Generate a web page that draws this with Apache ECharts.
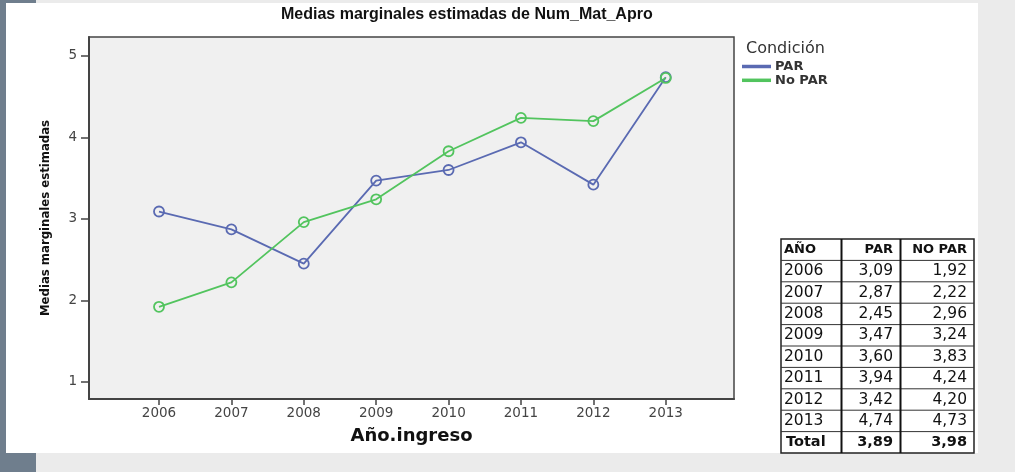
<!DOCTYPE html>
<html>
<head>
<meta charset="utf-8">
<script src="https://cdn.jsdelivr.net/npm/echarts@6/dist/echarts.min.js"></script>
<style>
  html, body { margin:0; padding:0; }
  body { width:1015px; height:472px; background:#ebebeb; overflow:hidden; position:relative; }
  #strip { position:absolute; left:0; top:0; width:36px; height:472px; background:#6f7e8d; }
  #panel { position:absolute; left:6px; top:3px; width:972px; height:450px; background:#ffffff; }
  #chart { position:absolute; left:0; top:0; width:1015px; height:472px; }
</style>
</head>
<body>
<div id="strip"></div>
<div id="panel"></div>
<div id="chart"></div>
<script>
// ---- data ----
const years = [2006, 2007, 2008, 2009, 2010, 2011, 2012, 2013];
const parValues = [3.09, 2.87, 2.45, 3.47, 3.60, 3.94, 3.42, 4.74];
const noParValues = [1.92, 2.22, 2.96, 3.24, 3.83, 4.24, 4.20, 4.73];
const totals = { PAR: 3.89, NOPAR: 3.98 };
const yTicks = [1, 2, 3, 4, 5];
const tableHeader = ['AÑO', 'PAR', 'NO PAR'];

// ---- styles ----
const BLUE = '#5a6ab2';
const GREEN = '#52c45e';
const AXIS = '#444444';
const DV = "'DejaVu Sans', 'Liberation Sans', sans-serif";

function fmt(v) { return v.toFixed(2).replace('.', ','); }

// ---- table (graphic) ----
const tL = 781, tR = 974, tT = 239, tB = 453;
const c1 = 841.5, c2 = 900.5;
const nRows = years.length + 2;
const rowH = (tB - tT) / nRows;
const tableChildren = [];
tableChildren.push({ type:'rect', shape:{ x:tL, y:tT, width:tR-tL, height:tB-tT }, style:{ fill:'#ffffff', stroke:'#222', lineWidth:1.5 }, z:1 });
for (let i = 1; i < nRows; i++) {
  const y = tT + rowH * i;
  tableChildren.push({ type:'line', shape:{ x1:tL, y1:y, x2:tR, y2:y }, style:{ stroke:'#333', lineWidth:1 }, z:2 });
}
[c1, c2].forEach(function (x) {
  tableChildren.push({ type:'line', shape:{ x1:x, y1:tT, x2:x, y2:tB }, style:{ stroke:'#111', lineWidth:2 }, z:2 });
});
function cellText(txt, x, row, align, weight, size) {
  return { type:'text', x:x, y:tT + rowH * (row + 0.5), z:3,
    style:{ text:txt, fill:'#111', fontSize:size, fontFamily:DV, fontWeight:weight, align:align, verticalAlign:'middle' } };
}
tableChildren.push(cellText(tableHeader[0], 784, 0, 'left', 'bold', 13));
tableChildren.push(cellText(tableHeader[1], 893, 0, 'right', 'bold', 13));
tableChildren.push(cellText(tableHeader[2], 967, 0, 'right', 'bold', 13));
years.forEach(function (yr, i) {
  tableChildren.push(cellText(String(yr), 784, i + 1, 'left', 'normal', 15.5));
  tableChildren.push(cellText(fmt(parValues[i]), 893, i + 1, 'right', 'normal', 15.5));
  tableChildren.push(cellText(fmt(noParValues[i]), 967, i + 1, 'right', 'normal', 15.5));
});
tableChildren.push(cellText('Total', 786, nRows - 1, 'left', 'bold', 14.5));
tableChildren.push(cellText(fmt(totals.PAR), 893, nRows - 1, 'right', 'bold', 14.5));
tableChildren.push(cellText(fmt(totals.NOPAR), 967, nRows - 1, 'right', 'bold', 14.5));

const chart = echarts.init(document.getElementById('chart'), null, { renderer:'canvas' });
chart.setOption({
  animation: false,
  backgroundColor: 'transparent',
  title: [
    { text:'Medias marginales estimadas de Num_Mat_Apro', left:281, top:7, padding:0,
      textStyle:{ fontFamily:"'Liberation Sans', Arial, sans-serif", fontWeight:'bold', fontSize:16, lineHeight:16, color:'#111' } },
    { text:'Condición', left:746, top:40, padding:0,
      textStyle:{ fontFamily:DV, fontWeight:'normal', fontSize:16, lineHeight:18, color:'#333' } }
  ],
  legend: {
    orient:'vertical', left:742, top:60, padding:0,
    itemWidth:27, itemHeight:1.5, itemGap:0.8,
    icon:'rect',
    textStyle:{ fontFamily:DV, fontWeight:'bold', fontSize:13, lineHeight:13, color:'#333' },
    data:['PAR', 'No PAR']
  },
  grid: { left:89, top:37, right:281, bottom:73, show:true, backgroundColor:'#f0f0f0', borderColor:AXIS, borderWidth:1.5 },
  xAxis: {
    type:'value', min:2005.033, max:2013.943,
    name:'Año.ingreso', nameLocation:'middle', nameGap:28,
    nameTextStyle:{ fontFamily:DV, fontWeight:'bold', fontSize:18, color:'#111' },
    axisLine:{ show:true, lineStyle:{ color:AXIS, width:2 } },
    axisTick:{ show:true, length:6, lineStyle:{ color:AXIS, width:1.5 }, customValues:years },
    axisLabel:{ margin:7, fontFamily:DV, fontSize:13.5, color:'#444', customValues:years, formatter:function(v){ return String(v); } },
    splitLine:{ show:false }
  },
  yAxis: {
    type:'value', min:0.7876, max:5.233,
    name:'Medias marginales estimadas', nameLocation:'middle', nameGap:37,
    nameTextStyle:{ fontFamily:"'Liberation Sans Narrow', 'DejaVu Sans Condensed', 'Arial Narrow', sans-serif", fontWeight:'bold', fontSize:13, color:'#111' },
    axisLine:{ show:true, lineStyle:{ color:AXIS, width:2 } },
    axisTick:{ show:true, length:8, lineStyle:{ color:AXIS, width:1.5 }, customValues:yTicks },
    axisLabel:{ margin:12, fontFamily:DV, fontSize:13.5, color:'#444', customValues:yTicks },
    splitLine:{ show:false }
  },
  series: [
    { name:'PAR', type:'line', data:years.map(function(y,i){ return [y, parValues[i]]; }),
      symbol:'circle', symbolSize:10, showSymbol:true,
      lineStyle:{ color:BLUE, width:1.8 },
      itemStyle:{ color:'rgba(0,0,0,0)', borderColor:BLUE, borderWidth:1.8 } },
    { name:'No PAR', type:'line', data:years.map(function(y,i){ return [y, noParValues[i]]; }),
      symbol:'circle', symbolSize:10, showSymbol:true,
      lineStyle:{ color:GREEN, width:1.8 },
      itemStyle:{ color:'rgba(0,0,0,0)', borderColor:GREEN, borderWidth:1.8 } }
  ],
  graphic: [ { type:'group', children: tableChildren } ]
});
</script>
</body>
</html>
